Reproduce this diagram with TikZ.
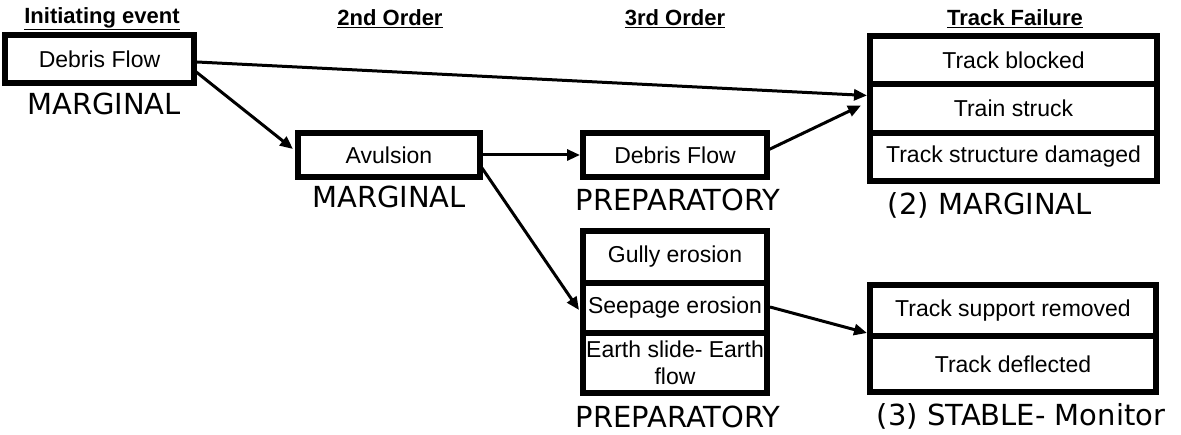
\documentclass[tikz,border=0pt]{standalone}
\usepackage{fontspec}
\setmainfont{Liberation Sans}
\newfontfamily\lblfont{DejaVu Sans}
\usetikzlibrary{arrows.meta,calc}
\tikzset{
  cell/.style={draw=black, line width=6pt, line join=miter, fill=white,
    rectangle, inner sep=0pt, outer sep=0pt, align=center,
    font=\fontsize{23}{27}\selectfont},
  heading/.style={inner sep=0pt, font=\fontsize{22}{26}\selectfont\bfseries},
  rating/.style={inner sep=0pt, font=\lblfont\fontsize{29}{32}\selectfont},
  flow/.style={line width=3pt, -{Triangle[length=13pt,width=11pt]}},
}
\begin{document}
\begin{tikzpicture}[x=1pt, y=-1pt]
\useasboundingbox (0,0) rectangle (1181,435);

% column headings
\node[heading] (h1) at (102,19) {\underline{Initiating event}};
\node[heading] (h2) at (390,19) {\underline{2nd Order}};
\node[heading] (h3) at (675,19) {\underline{3rd Order}};
\node[heading] (h4) at (1015,19) {\underline{Track Failure}};

% initiating event
\node[cell, minimum width=189pt, minimum height=48pt] (deb1) at (99.5,59) {Debris Flow};
\node[rating] (r1) at (104,104) {MARGINAL};

% second order
\node[cell, minimum width=182pt, minimum height=44pt] (avul) at (389,155) {Avulsion};
\node[rating] (r2) at (389,197) {MARGINAL};

% third order
\node[cell, minimum width=184pt, minimum height=44pt] (deb3) at (675,155) {Debris Flow};
\node[rating] (r3) at (678,200) {PREPARATORY};

\node[cell, minimum width=184pt, minimum height=52pt] (gully) at (675,257) {Gully erosion};
\node[cell, minimum width=184pt, minimum height=50pt] (seep) at (675,308) {Seepage erosion};
\node[cell, minimum width=184pt, minimum height=60pt] (earth) at (675,363) {Earth slide- Earth\\flow};
\node[rating] (r4) at (678,417) {PREPARATORY};

% track failure
\node[cell, minimum width=287pt, minimum height=48pt] (tb) at (1013.5,60) {Track blocked};
\node[cell, minimum width=287pt, minimum height=49pt] (train) at (1013.5,108.5) {Train struck};
\node[cell, minimum width=287pt, minimum height=48pt] (tsd) at (1013.5,157) {Track structure damaged};
\node[rating] (r5) at (990,205) {(2) MARGINAL};

\node[cell, minimum width=286pt, minimum height=51pt] (tsr) at (1013,310.5) {Track support removed};
\node[cell, minimum width=286pt, minimum height=56pt] (tdef) at (1013,364) {Track deflected};
\node[rating] (r6) at (1021,416) {(3) STABLE- Monitor};

% connectors
\draw[flow] ($(deb1.east)+(3,3)$) -- ($(train.west)+(-3,-13)$);
\draw[flow] ($(deb1.east)+(1,12)$) -- ($(avul.west)+(-5,-6)$);
\draw[flow] (avul.east) -- ($(deb3.west)+(-3,0)$);
\draw[flow] ($(avul.east)+(2,13)$) -- ($(seep.west)+(-4,2)$);
\draw[flow] ($(deb3.east)+(1,-5)$) -- ($(train.west)+(-9,-3)$);
\draw[flow] ($(seep.east)+(3,-1)$) -- ($(tsr.south west)+(-3,-3)$);
\end{tikzpicture}
\end{document}
